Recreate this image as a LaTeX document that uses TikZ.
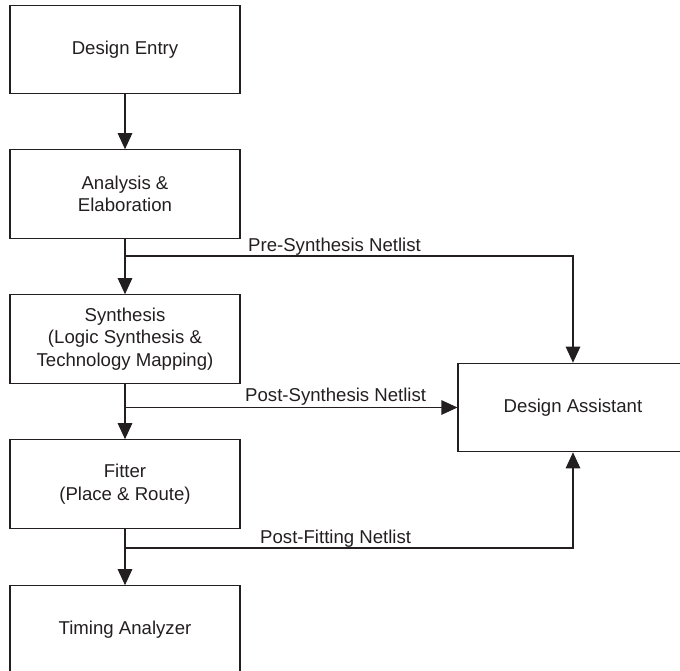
\documentclass[tikz,border=0pt]{standalone}
\usepackage{fontspec}
\setmainfont{Liberation Sans}
\usetikzlibrary{arrows.meta}
\definecolor{ink}{HTML}{231F20}
\tikzset{
  box/.style={draw=ink, line width=1.1pt, minimum width=230pt, minimum height=88.5pt, inner sep=0pt, align=center, text=ink,
    font=\fontsize{18.6pt}{22.4pt}\selectfont},
  conn/.style={draw=ink, line width=1.1pt},
  arr/.style={conn, -{Triangle[length=16pt,width=14.5pt]}},
  lbl/.style={anchor=base west, inner sep=0pt, text=ink, font=\fontsize{18.6pt}{22.4pt}\selectfont}
}
\begin{document}
\begin{tikzpicture}[x=1pt,y=-1pt]
\useasboundingbox (0,0) rectangle (680,670);
\clip (0,0) rectangle (680,670);
\node[box] (de) at (125,49.5) {Design Entry};
\node[box] (ae) at (125,194) {Analysis \&\\Elaboration};
\node[box] (sy) at (125,339) {Synthesis\\(Logic Synthesis \&\\Technology Mapping)};
\node[box] (fi) at (125,484) {Fitter\\(Place \& Route)};
\node[box] (ta) at (125,630) {Timing Analyzer};
\node[box] (da) at (573,407.5) {Design Assistant};
\coordinate (b1) at (125,256);
\coordinate (b2) at (125,407.5);
\coordinate (b3) at (125,548);
\draw[arr] (de) -- (ae);
\draw[arr] (ae) -- (sy);
\draw[arr] (sy) -- (fi);
\draw[arr] (fi) -- (ta);
\draw[arr] (b1) -| (da.north);
\draw[arr] (b2) -- (da.west);
\draw[arr] (b3) -| (da.south);
\node[lbl] (l1) at (248,251) {Pre-Synthesis Netlist};
\node[lbl] (l2) at (245,401) {Post-Synthesis Netlist};
\node[lbl] (l3) at (260,543) {Post-Fitting Netlist};
\end{tikzpicture}
\end{document}
